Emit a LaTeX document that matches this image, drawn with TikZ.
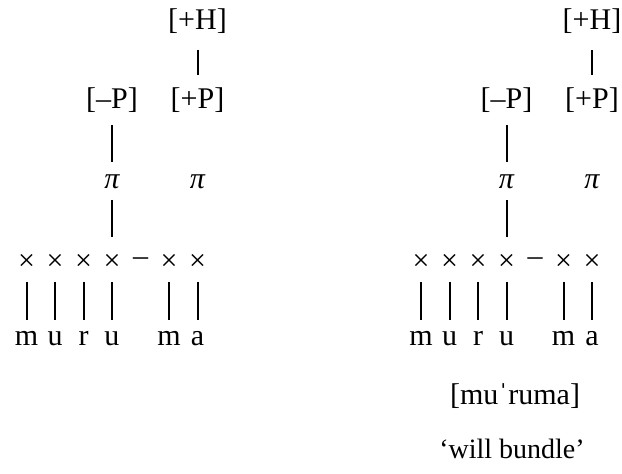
\documentclass[tikz,border=0pt]{standalone}
\usepackage{fontspec}
\setmainfont{Liberation Serif}
\begin{document}
\begin{tikzpicture}[x=0.5pt,y=-0.5pt,line width=1pt,
    font=\fontsize{15}{18}\selectfont,
    assoc/.style={shorten <=10pt,shorten >=9.6pt}]
  \useasboundingbox (0,0) rectangle (622,474);
  \foreach \d/\ox in {L/0,R/394.5}{
    % skeletal tier and segments
    \foreach \i/\cx/\s in {1/26.5/m,2/55/u,3/83.5/r,4/112/u,6/169/m,7/197.5/a}{
      \node (x\i\d) at (\ox+\cx,262) {×};
      \node[anchor=base] (s\i\d) at (\ox+\cx,346) {\s};
      \draw[assoc] (x\i\d.center) -- (s\i\d.center);
    }
    \node (dash\d) at (\ox+140.5,262) {–};
    % prosodic units
    \node (pia\d) at (\ox+112,182) {\itshape π};
    \node (pib\d) at (\ox+197.5,182) {\itshape π};
    % features
    \node (mP\d) at (\ox+112,100) {[–P]};
    \node (pP\d) at (\ox+197.5,100) {[+P]};
    \node (pH\d) at (\ox+197.5,21) {[+H]};
    \draw[shorten <=12.5pt,shorten >=10pt] (mP\d.center) -- (pia\d.center);
    \draw[shorten <=9pt,shorten >=12.5pt] (pia\d.center) -- (x4\d.center);
    \draw[shorten <=14.5pt,shorten >=12.5pt] (pH\d.center) -- (pP\d.center);
  }
  % transcription and gloss
  \node (ipa) at (515,396) {[muˈruma]};
  \node[font=\fontsize{14}{17}\selectfont] (gloss) at (512,449) {‘will bundle’};
\end{tikzpicture}
\end{document}
